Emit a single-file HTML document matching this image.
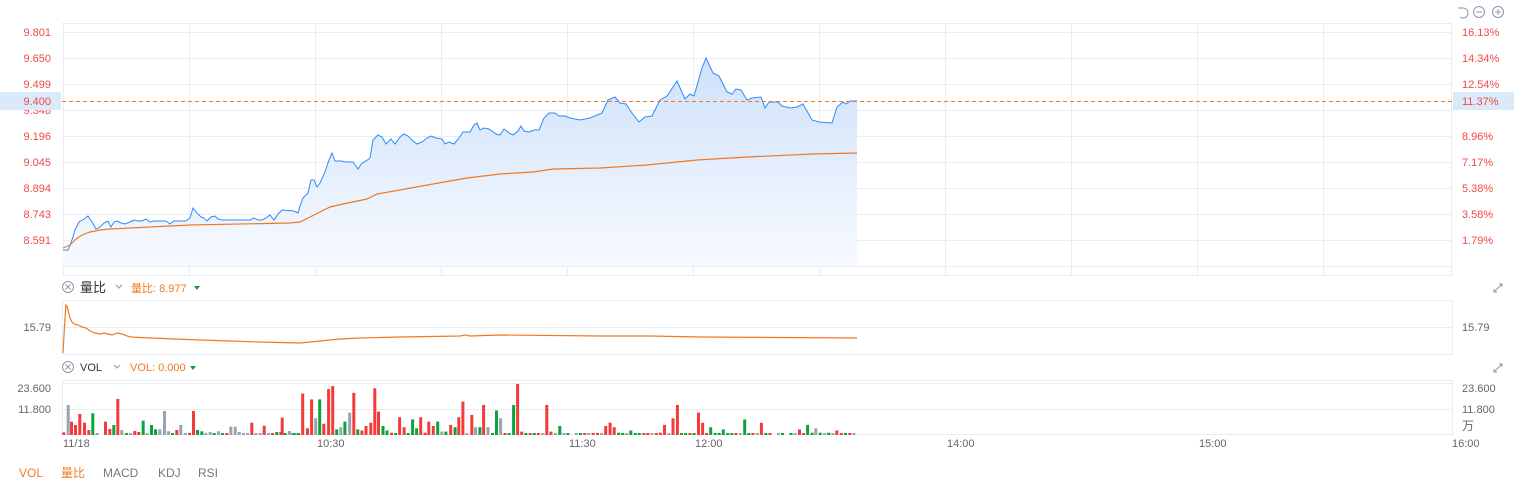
<!DOCTYPE html>
<html><head><meta charset="utf-8"><style>
html,body{margin:0;padding:0;background:#fff;}
body{width:1514px;height:492px;overflow:hidden;font-family:"Liberation Sans","Noto Sans CJK SC",sans-serif;}
svg text{font-family:"Liberation Sans","Noto Sans CJK SC",sans-serif;}
</style></head><body>
<svg id="s" width="1514" height="492" xmlns="http://www.w3.org/2000/svg">
<defs>
<linearGradient id="g" x1="0" y1="0" x2="0" y2="1">
<stop offset="0" stop-color="#cfe1fa"/><stop offset="1" stop-color="#f7faff"/>
</linearGradient>
</defs>
<g stroke="#e8edf3" stroke-width="1" fill="none">
<line x1="62" y1="23.5" x2="1452" y2="23.5"/>
<line x1="62" y1="32.5" x2="1452" y2="32.5"/>
<line x1="62" y1="58.5" x2="1452" y2="58.5"/>
<line x1="62" y1="84.5" x2="1452" y2="84.5"/>
<line x1="62" y1="110.5" x2="1452" y2="110.5"/>
<line x1="62" y1="136.5" x2="1452" y2="136.5"/>
<line x1="62" y1="162.5" x2="1452" y2="162.5"/>
<line x1="62" y1="188.5" x2="1452" y2="188.5"/>
<line x1="62" y1="214.5" x2="1452" y2="214.5"/>
<line x1="62" y1="240.5" x2="1452" y2="240.5"/>
<line x1="62" y1="266.5" x2="1452" y2="266.5"/>
<line x1="62" y1="275.5" x2="1452" y2="275.5"/>
<line x1="63.5" y1="23" x2="63.5" y2="275"/>
<line x1="189.5" y1="23" x2="189.5" y2="275"/>
<line x1="315.5" y1="23" x2="315.5" y2="275"/>
<line x1="441.5" y1="23" x2="441.5" y2="275"/>
<line x1="567.5" y1="23" x2="567.5" y2="275"/>
<line x1="693.5" y1="23" x2="693.5" y2="275"/>
<line x1="819.5" y1="23" x2="819.5" y2="275"/>
<line x1="945.5" y1="23" x2="945.5" y2="275"/>
<line x1="1071.5" y1="23" x2="1071.5" y2="275"/>
<line x1="1197.5" y1="23" x2="1197.5" y2="275"/>
<line x1="1323.5" y1="23" x2="1323.5" y2="275"/>
<line x1="1451.5" y1="23" x2="1451.5" y2="275"/>
<rect x="62.5" y="300.5" width="1390" height="54"/>
<line x1="62" y1="327.5" x2="1452" y2="327.5"/>
<rect x="62.5" y="380.5" width="1390" height="54"/>
<line x1="62" y1="383.5" x2="1452" y2="383.5"/>
<line x1="62" y1="409.5" x2="1452" y2="409.5"/>
</g>
<path id="fill" fill="url(#g)" d=""/>
<polyline id="blue" fill="none" stroke="#2f89fc" stroke-width="1" points=""/>
<polyline fill="none" stroke="#f07a23" stroke-width="1.2" points="63,248 70,245 76,239 82,235 90,232 100,230 110,229 130,228 190,225 290,223 300,222 310,217 320,212 330,207 343,204 367,199 377,194 400,190 433,184 467,178 500,174 533,172 553,169 600,168 647,165 697,160 747,157 813,154 857,153"/>
<line x1="62" y1="101.5" x2="1452" y2="101.5" stroke="#f07a23" stroke-dasharray="4,3" stroke-width="1"/>
<rect x="0" y="92" width="61" height="18" fill="#dbeafb"/>
<rect x="1453" y="92" width="61" height="18" fill="#dbeafb"/>
<g font-size="11" fill="#f04848" text-anchor="end">
<text x="51" y="36">9.801</text><text x="51" y="62">9.650</text><text x="51" y="88">9.499</text>
<text x="51" y="114" clip-path="url(#c1)">9.348</text>
<text x="51" y="140">9.196</text><text x="51" y="166">9.045</text><text x="51" y="192">8.894</text>
<text x="51" y="218">8.743</text><text x="51" y="244">8.591</text>
</g>
<g font-size="11" fill="#f04848">
<text x="1462" y="36">16.13%</text><text x="1462" y="62">14.34%</text><text x="1462" y="88">12.54%</text>
<text x="1462" y="140">8.96%</text><text x="1462" y="166">7.17%</text><text x="1462" y="192">5.38%</text>
<text x="1462" y="218">3.58%</text><text x="1462" y="244">1.79%</text>
</g>
<rect x="0" y="92" width="61" height="18" fill="#dbeafb"/>
<rect x="1453" y="92" width="61" height="18" fill="#dbeafb"/>
<text x="51" y="105" font-size="11" fill="#f04848" text-anchor="end">9.400</text>
<text x="1462" y="105" font-size="11" fill="#f04848">11.37%</text>
<!-- header 量比 -->
<g stroke="#8a96a8" fill="none" stroke-width="1">
<circle cx="68" cy="287" r="5.5"/><path d="M65.5 284.5l5 5M70.5 284.5l-5 5"/>
<path d="M116 285l3 3 3-3"/>
<circle cx="68" cy="367" r="5.5"/><path d="M65.5 364.5l5 5M70.5 364.5l-5 5"/>
<path d="M114 365l3 3 3-3"/>
<path d="M1463 8a5 5 0 1 1-3 9" /><path d="M1458 8h5"/>
<circle cx="1479" cy="12" r="5.5"/><path d="M1476 12h6"/>
<circle cx="1498" cy="12" r="5.5"/><path d="M1495 12h6M1498 9v6"/>
<path d="M1494 292l8-8M1499 284h3v3M1494 289v3h3"/>
<path d="M1494 372l8-8M1499 364h3v3M1494 369v3h3"/>
</g>
<text x="80" y="292" font-size="13" fill="#333">量比</text>
<text x="131" y="292" font-size="11" fill="#f07a23">量比: 8.977</text>
<path d="M194 286h6l-3 4z" fill="#1a9a2e"/>
<text x="80" y="371" font-size="11" fill="#333">VOL</text>
<text x="130" y="371" font-size="11" fill="#f07a23">VOL: 0.000</text>
<path d="M190 366h6l-3 4z" fill="#1a9a2e"/>
<polyline fill="none" stroke="#f07a23" stroke-width="1.2" points="63,353 65,318 66,305 67,306 68,310 70,318 72,322 74,324 78,325 82,327 86,328 90,331 95,333 100,334 104,333 108,334 112,335 117,333 122,334 127,336 131,337 150,338 175,339 200,340 230,341 260,342 300,343 320,341 340,339 360,338 400,337 460,336 465,335 470,336 500,335 600,336 650,336 700,337 857,338"/>
<g font-size="11" fill="#666">
<text x="51" y="331" text-anchor="end">15.79</text>
<text x="1462" y="331">15.79</text>
<text x="51" y="392" text-anchor="end">23.600</text>
<text x="51" y="413" text-anchor="end">11.800</text>
<text x="1462" y="392">23.600</text>
<text x="1462" y="413">11.800</text>
<text x="1462" y="430" font-size="12">万</text>
<text x="63" y="447">11/18</text>
<text x="317" y="447">10:30</text>
<text x="569" y="447">11:30</text>
<text x="695" y="447">12:00</text>
<text x="947" y="447">14:00</text>
<text x="1199" y="447">15:00</text>
<text x="1452" y="447">16:00</text>
</g>
<g id="bars"></g>
<g font-size="12">
<text x="19" y="477" fill="#f07a23">VOL</text>
<text x="61" y="477" fill="#f07a23">量比</text>
<text x="103" y="477" fill="#777">MACD</text>
<text x="158" y="477" fill="#777">KDJ</text>
<text x="198" y="477" fill="#777">RSI</text>
</g>
</svg>
<script>
var pts=[[63,250],[68,250],[71,243],[75,230],[79,222],[84,219],[88,216],[92,222],[96,229],[100,227],[104,223],[108,221],[111,227],[114,222],[117,221],[121,223],[125,224],[130,222],[134,220],[138,221],[142,221],[146,219],[150,222],[154,221],[166,221],[170,224],[174,221],[186,221],[190,218],[193,208],[197,213],[201,217],[204,218],[207,221],[211,217],[215,216],[218,219],[222,220],[250,220],[254,218],[258,220],[262,220],[266,218],[270,215],[274,220],[278,214],[282,210],[294,211],[298,213],[300,206],[303,198],[308,193],[311,180],[314,180],[317,187],[320,183],[325,172],[329,160],[332,153],[335,161],[341,161],[346,162],[353,162],[358,169],[362,163],[366,161],[370,158],[373,140],[378,135],[382,137],[386,144],[391,139],[395,144],[400,137],[404,134],[408,136],[413,141],[417,144],[422,142],[427,138],[431,136],[436,138],[442,139],[445,144],[449,142],[454,144],[459,138],[463,132],[470,132],[474,125],[477,123],[480,130],[484,128],[489,129],[496,134],[500,135],[504,129],[509,133],[513,135],[518,131],[521,126],[524,131],[529,132],[534,130],[539,130],[544,118],[549,113],[555,113],[559,116],[565,116],[570,118],[580,120],[590,118],[602,113],[608,100],[615,97],[620,103],[626,104],[632,113],[639,122],[645,117],[652,116],[660,100],[667,96],[677,81],[685,99],[690,94],[694,96],[702,68],[706,58],[713,73],[719,76],[727,92],[732,94],[736,89],[741,90],[747,100],[752,98],[761,97],[765,108],[769,102],[778,102],[782,106],[790,108],[797,107],[803,104],[812,120],[819,122],[832,123],[837,107],[843,102],[846,104],[850,101],[857,101]];
var s=pts.map(function(p){return p[0]+','+p[1]}).join(' ');
document.getElementById('blue').setAttribute('points',s);
document.getElementById('fill').setAttribute('d','M63,266 L'+s.replace(/ /g,' L')+' L857,266 Z');
var A="190r1297 203g1215 213r1265 225r1275 238r1242 252r1268 265r1290 277e1240 290g1302 315r1265 328r1287 340e1275 352r1197 364g1290 378e1302 390g1302 403r1293 415r1296 428e1262 440g1302 453e1275 465e1288 478g1288 492g1233 504g1294 516e1302 529r1290 541g1275 554g1302 567r1300 579r1233 591e1290 604e1294 616g1302 629g1296 641e1302 654g1294 666e1299 679r1302 691g1280 704g1280 716g1296 729g1302 741g1302 754r1268 766g1302 779g1299 791r1277 804g1302 816r1302 829e1296 841r1296 845r1253 854e1302 867g1293 879g1302 892g1302";
var B="0g168 10e177 22e177 33r50 46r144 57r66 68g117 79e66 90r132 103r38 114r30 125e147 136g141 147e126 160g102 171r48 182e147 193r150 204r138 217r129 228r36 238r99 250e138 261e150 273r156 284e177 295r114 307r141 318e159 330e120 341e144 352r114 364r156 374r126 386r138 398e126 409g153 420e153 433r135 445e141 455r114 466r72 477g165 490r108 500g141 512e141 522r81 534g141 546e162 557e96 568g117 580r177 591e174 603e81 614r24 625r153 636e177 648r171 659e171 670r165 682g171 693r81 704r153 716g168 728e138 739g174 750e174 773g174 784e177 795r177 806g162 818r174 830r168 841g177 852r138 864r129 875r141 887e156 898e165 909g168 920e150 932e174 943e168 955r159 966r177 977g159 989r165 1000r156 1011r135 1023g171 1034r117 1046r81 1057e165 1068e177 1080r177 1091e171 1103r102 1114r129 1125r159 1136e141 1148e165 1159e174 1170e147 1182e177 1193e177 1204r174 1216g171 1228e120 1239e174 1250r174 1262g171 1273r129 1285e168 1296r177 1319g177 1330e177 1353e177 1364g159 1376r147 1387r171 1398e135 1410e156 1420g144 1432e156 1444g171 1455e156 1466g174 1477r150 1489r168 1500e168 1512r168 1523g174";
var col={r:'#f23b3b',e:'#0ba33b',g:'#9ba3ae'};
var h='';
function add(x,c,t){t=Math.min(t,433);h+='<rect x="'+x.toFixed(1)+'" y="'+t.toFixed(1)+'" width="3" height="'+(435-t).toFixed(1)+'" fill="'+col[c]+'"/>';}
A.split(' ').forEach(function(e){var m=e.match(/(\d+)([reg])(\d+)/);add(+m[1]/3-1,m[2],+m[3]/3);});
B.split(' ').forEach(function(e){var m=e.match(/(\d+)([reg])(\d+)/);add(290+ +m[1]/2.7034-1,m[2],375+ +m[3]/2.7034);});
document.getElementById('bars').innerHTML=h;
</script>
</body></html>
